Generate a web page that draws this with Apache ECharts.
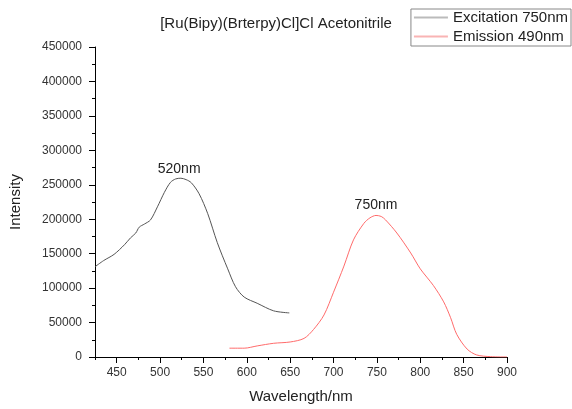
<!DOCTYPE html>
<html>
<head>
<meta charset="utf-8">
<script src="https://cdn.jsdelivr.net/npm/echarts@6/dist/echarts.min.js"></script>
<style>
  html, body { margin: 0; padding: 0; background: #fff; }
  #chart { width: 572px; height: 409px; }
</style>
</head>
<body>
<div id="chart"></div>
<script>
// excitation scan (monitored at 750nm)
const excWave = [425, 435, 447, 459, 466, 472, 476, 482, 489, 497, 505, 512, 518, 524, 530, 536, 545, 555, 566, 578, 587, 597, 612, 631, 649];
const excInt = [131000, 140000, 149000, 163000, 173000, 180000, 188500, 193000, 199000, 218000, 239000, 253500, 258500, 259500, 257500, 253000, 237000, 208000, 166000, 128000, 102000, 87000, 78000, 67000, 64000];
// emission scan (excited at 490nm)
const emWave = [580, 597, 612, 631, 650, 666, 677, 689, 700, 712, 723, 735, 742, 749, 755, 760, 773, 789, 800, 815, 827, 835, 842, 854, 865, 881, 900];
const emInt = [12800, 12800, 16100, 19900, 21800, 27000, 40000, 61000, 94000, 132000, 170000, 194000, 202000, 205500, 204000, 199000, 180000, 151000, 128000, 104000, 80000, 57000, 33000, 11500, 3000, 500, 0];
const seriesNames = ['Excitation 750nm', 'Emission 490nm'];
const peakLabels = ['520nm', '750nm'];
const xMajorTicks = [450, 500, 550, 600, 650, 700, 750, 800, 850, 900];
const xMinorTicks = [425, 475, 525, 575, 625, 675, 725, 775, 825, 875];

const font = 'Liberation Sans, Arial, sans-serif';
const chart = echarts.init(document.getElementById('chart'));

const option = {
  animation: false,
  backgroundColor: '#fff',
  title: {
    text: '[Ru(Bipy)(Brterpy)Cl]Cl Acetonitrile',
    left: 271, top: 11, textAlign: 'center',
    textStyle: { fontFamily: font, fontSize: 15, fontWeight: 'normal', color: '#222' }
  },
  legend: {
    right: 1, top: 9,
    orient: 'vertical',
    itemWidth: 34, itemHeight: 2, itemGap: 4,
    padding: [1, 3, 2, 3],
    borderColor: '#888', borderWidth: 1,
    icon: 'rect',
    textStyle: { fontFamily: font, fontSize: 15, color: '#222' },
    data: [
      { name: seriesNames[0], itemStyle: { color: '#bbb' }, lineStyle: { color: '#bbb' } },
      { name: seriesNames[1], itemStyle: { color: '#f9b4b4' }, lineStyle: { color: '#f9b4b4' } }
    ]
  },
  grid: { left: 93, right: 65, top: 47, bottom: 46 },
  xAxis: [
    {
      type: 'value', min: 425, max: 900,
      name: 'Wavelength/nm', nameLocation: 'middle', nameGap: 32,
      nameTextStyle: { fontFamily: font, fontSize: 15, color: '#222' },
      axisLine: { lineStyle: { color: '#000', width: 1 } },
      axisTick: { length: 6, customValues: xMajorTicks, lineStyle: { color: '#000' } },
      axisLabel: { margin: 10, customValues: xMajorTicks, fontFamily: font, fontSize: 12, color: '#333' },
      splitLine: { show: false }
    },
    {
      type: 'value', min: 425, max: 900, position: 'bottom',
      axisLine: { show: false },
      axisTick: { length: 3, customValues: xMinorTicks, lineStyle: { color: '#000' } },
      axisLabel: { show: false },
      splitLine: { show: false }
    }
  ],
  yAxis: {
    type: 'value', min: 0, max: 450000, interval: 50000,
    name: 'Intensity', nameLocation: 'middle', nameGap: 72, nameRotate: 90,
    nameTextStyle: { fontFamily: font, fontSize: 15, color: '#222' },
    axisLine: { show: true, lineStyle: { color: '#000', width: 1 } },
    axisTick: { show: true, length: 6, lineStyle: { color: '#000' } },
    minorTick: { show: true, splitNumber: 2, length: 3, lineStyle: { color: '#000' } },
    axisLabel: { margin: 13, fontFamily: font, fontSize: 12, color: '#333', formatter: v => String(v) },
    splitLine: { show: false }
  },
  series: [
    {
      name: seriesNames[0], type: 'line', xAxisIndex: 0,
      data: excWave.map((w, i) => [w, excInt[i]]),
      smooth: 0.3, showSymbol: false,
      lineStyle: { color: '#555', width: 1 },
      itemStyle: { color: '#bbb' },
      markPoint: {
        symbol: 'circle', symbolSize: 0,
        label: { show: true, position: 'top', distance: 2, formatter: peakLabels[0], fontFamily: font, fontSize: 14, color: '#222' },
        data: [{ coord: [522, 259500] }]
      }
    },
    {
      name: seriesNames[1], type: 'line', xAxisIndex: 0,
      data: emWave.map((w, i) => [w, emInt[i]]),
      smooth: 0.3, showSymbol: false,
      lineStyle: { color: '#ff6b6b', width: 1 },
      itemStyle: { color: '#f9b4b4' },
      markPoint: {
        symbol: 'circle', symbolSize: 0,
        label: { show: true, position: 'top', distance: 3, formatter: peakLabels[1], fontFamily: font, fontSize: 14, color: '#222' },
        data: [{ coord: [749, 205500] }]
      }
    }
  ]
};
chart.setOption(option);
</script>
</body>
</html>
